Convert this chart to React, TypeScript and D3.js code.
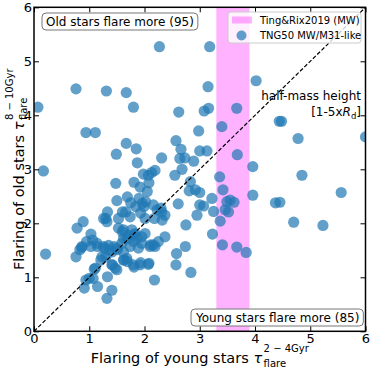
import React, { useEffect, useRef } from 'react';
import * as d3 from 'd3';

// flaring of young (2-4 Gyr) vs old (8-10 Gyr) stars, one entry per TNG50 galaxy
const youngFlare = [
  0.07, 0.17, 0.21, 0.76, 0.94, 1.11, 1.31, 1.67, 1.80, 2.27, 2.62, 3.08, 3.16, 3.18, 3.15, 3.67, 4.02, 3.40, 4.44, 4.48,
  4.78, 6.00, 3.68, 3.96, 3.36, 4.85, 3.42, 3.96, 5.56, 4.37, 4.45, 4.70, 5.23, 3.37, 3.23, 3.41, 3.67, 3.84, 3.49, 3.55,
  3.62, 3.46, 3.52, 3.25, 1.67, 1.85, 1.49, 1.87, 2.31, 2.57, 2.66, 2.64, 2.73, 2.98, 3.00, 3.13, 2.89, 2.68, 2.55, 2.19,
  2.13, 2.07, 1.98, 1.48, 1.81, 1.92, 2.05, 2.08, 2.83, 2.81, 2.92, 3.00, 3.22, 2.61, 3.00, 3.07, 2.95, 2.75, 2.37, 2.31,
  2.37, 2.58, 2.74, 2.57, 2.84, 2.18, 1.50, 1.69, 1.75, 1.60, 1.66, 1.33, 1.30, 1.32, 1.84, 1.93, 1.99, 1.90, 1.96, 2.16,
  2.23, 2.30, 2.18, 2.32, 1.53, 1.74, 1.26, 2.01, 0.89, 0.78, 1.03, 1.06, 0.86, 0.83, 0.76, 0.95, 1.14, 1.26, 1.35, 1.23,
  1.41, 1.50, 1.59, 1.62, 1.62, 1.71, 1.77, 1.83, 1.86, 1.80, 1.74, 1.95, 2.01, 1.95, 2.10, 2.19, 1.89, 1.62, 1.68, 1.41,
  1.47, 1.11, 1.80, 1.92, 2.07, 1.62, 1.53, 1.60, 1.81, 1.69, 2.11, 2.25, 2.16, 0.87, 1.03, 1.15, 1.27, 1.36, 1.45, 1.51,
  1.21, 1.30, 1.09, 1.00, 0.94, 0.91, 1.15, 1.32, 1.41, 1.33, 1.42, 1.50, 1.63, 1.69, 1.81, 1.93, 2.08, 1.07, 2.02,
];
const oldFlare = [
  4.15, 2.97, 1.43, 4.49, 3.68, 3.68, 4.45, 4.42, 4.15, 5.27, 4.06, 4.08, 4.13, 5.27, 4.53, 4.13, 4.64, 3.79, 3.89, 3.89,
  3.57, 3.60, 3.27, 3.05, 2.86, 2.89, 2.62, 2.52, 2.57, 2.38, 2.39, 2.02, 1.96, 2.04, 1.80, 1.60, 1.56, 1.46, 2.40, 2.43,
  2.39, 2.25, 2.21, 2.22, 3.48, 3.38, 3.28, 3.12, 3.21, 3.53, 3.37, 3.20, 3.21, 3.71, 3.34, 3.34, 3.15, 3.00, 2.89, 2.98,
  2.94, 2.89, 2.91, 2.74, 2.76, 2.67, 2.59, 2.75, 2.77, 2.60, 2.62, 2.57, 2.46, 2.36, 2.34, 2.32, 2.15, 1.97, 2.15, 2.21,
  1.75, 1.44, 1.57, 1.23, 1.09, 0.95, 2.42, 2.49, 2.38, 2.21, 2.21, 2.21, 2.09, 2.03, 2.31, 2.19, 2.31, 2.46, 2.37, 2.34,
  2.25, 2.28, 2.09, 2.06, 2.09, 2.12, 2.09, 2.09, 2.03, 1.91, 1.80, 1.69, 1.55, 1.51, 1.38, 1.66, 1.63, 1.57, 1.59, 1.38,
  1.47, 1.54, 1.63, 1.72, 1.88, 1.78, 1.88, 1.81, 1.72, 1.66, 1.57, 1.75, 1.81, 1.63, 1.57, 1.57, 1.54, 1.47, 1.35, 1.23,
  1.17, 1.17, 1.23, 1.23, 1.24, 1.32, 1.91, 1.84, 1.78, 1.72, 1.60, 1.66, 1.60, 1.57, 1.57, 1.57, 1.54, 1.51, 1.57, 1.51,
  1.32, 1.38, 1.15, 0.98, 0.95, 0.80, 0.83, 0.61, 0.76, 1.01, 1.23, 1.14, 1.32, 1.29, 1.19, 1.27, 1.26, 0.98, 2.40,
];

const xTicks = [0, 1, 2, 3, 4, 5, 6];
const yTicks = [0, 1, 2, 3, 4, 5, 6];
const tingRixBand = [3.3, 3.9];
const oldMoreCount = 95;
const youngMoreCount = 85;

const App = () => {
  const svgRef = useRef<SVGSVGElement>(null);

  useEffect(() => {
    const svg = d3.select(svgRef.current);
    svg.selectAll('*').remove();

    const font = 'DejaVu Sans, sans-serif';
    const left = 34, right = 365.5, top = 7.3, bottom = 331.3;

    const x = d3.scaleLinear().domain([0, 6]).range([left, right]);
    const y = d3.scaleLinear().domain([0, 6]).range([bottom, top]);

    svg.append('rect').attr('width', 374).attr('height', 370).attr('fill', 'white');

    svg.append('clipPath').attr('id', 'plot-clip')
      .append('rect')
      .attr('x', left).attr('y', top)
      .attr('width', right - left).attr('height', bottom - top);

    const plot = svg.append('g').attr('clip-path', 'url(#plot-clip)');

    plot.append('rect')
      .attr('x', x(tingRixBand[0]))
      .attr('y', top)
      .attr('width', x(tingRixBand[1]) - x(tingRixBand[0]))
      .attr('height', bottom - top)
      .attr('fill', '#ff00ff')
      .attr('fill-opacity', 0.3);

    const pts = youngFlare.map((v, i) => ({ young: v, old: oldFlare[i] }));

    plot.selectAll('.dot')
      .data(pts)
      .enter().append('circle')
      .attr('class', 'dot')
      .attr('cx', d => x(d.young))
      .attr('cy', d => y(d.old))
      .attr('r', 5.6)
      .attr('fill', '#1f77b4')
      .attr('fill-opacity', 0.7);

    plot.append('line')
      .attr('x1', x(0)).attr('y1', y(0))
      .attr('x2', x(6)).attr('y2', y(6))
      .attr('stroke', 'black')
      .attr('stroke-width', 1.2)
      .attr('stroke-dasharray', '4,2');

    // axes, ticks pointing inward on all four sides
    const styleAxis = (g) => {
      g.select('.domain').remove();
      g.selectAll('line').attr('stroke', 'black').attr('stroke-width', 1);
      g.selectAll('text').attr('font-family', font).attr('font-size', 13).attr('fill', 'black');
    };

    svg.append('g')
      .attr('transform', `translate(0,${bottom})`)
      .call(d3.axisBottom(x).tickValues(xTicks).tickSize(-5).tickPadding(2).tickFormat(d3.format('d')))
      .call(styleAxis);

    svg.append('g')
      .attr('transform', `translate(${left},0)`)
      .call(d3.axisLeft(y).tickValues(yTicks).tickSize(-5).tickPadding(2).tickFormat(d3.format('d')))
      .call(styleAxis);

    svg.append('g')
      .attr('transform', `translate(0,${top})`)
      .call(d3.axisTop(x).tickValues(xTicks).tickSize(-5).tickFormat(() => ''))
      .call(styleAxis);

    svg.append('g')
      .attr('transform', `translate(${right},0)`)
      .call(d3.axisRight(y).tickValues(yTicks).tickSize(-5).tickFormat(() => ''))
      .call(styleAxis);

    svg.append('rect')
      .attr('x', left).attr('y', top)
      .attr('width', right - left).attr('height', bottom - top)
      .attr('fill', 'none')
      .attr('stroke', 'black')
      .attr('stroke-width', 1.5);

    // boxed annotations
    const boxText = (label, tx, ty) => {
      const g = svg.append('g');
      const t = g.append('text')
        .attr('x', tx).attr('y', ty)
        .attr('font-family', font).attr('font-size', 12)
        .text(label);
      const bb = (t.node() as SVGTextElement).getBBox();
      g.insert('rect', 'text')
        .attr('x', bb.x - 4).attr('y', bb.y - 1.5)
        .attr('width', bb.width + 8).attr('height', bb.height + 3)
        .attr('rx', 4)
        .attr('fill', 'white')
        .attr('stroke', '#777')
        .attr('stroke-width', 1);
    };
    boxText(`Old stars flare more (${oldMoreCount})`, 46, 25.5);
    boxText(`Young stars flare more (${youngMoreCount})`, 196, 321.5);

    svg.append('text')
      .attr('x', 361).attr('y', 100)
      .attr('text-anchor', 'end')
      .attr('font-family', font).attr('font-size', 12)
      .text('half-mass height');
    const hm2 = svg.append('text')
      .attr('x', 361).attr('y', 116)
      .attr('text-anchor', 'end')
      .attr('font-family', font).attr('font-size', 12);
    hm2.append('tspan').text('[1-5x');
    hm2.append('tspan').attr('font-style', 'italic').text('R');
    hm2.append('tspan').attr('font-size', 8.5).attr('dy', 2.5).text('d');
    hm2.append('tspan').attr('dy', -2.5).text(']');

    // legend
    const leg = svg.append('g');
    leg.append('rect')
      .attr('x', 228).attr('y', 12)
      .attr('width', 133).attr('height', 31)
      .attr('rx', 3)
      .attr('fill', 'white').attr('fill-opacity', 0.8)
      .attr('stroke', '#cccccc').attr('stroke-width', 1);
    leg.append('rect')
      .attr('x', 232).attr('y', 16.5)
      .attr('width', 20).attr('height', 7)
      .attr('fill', '#ff00ff').attr('fill-opacity', 0.3);
    leg.append('text')
      .attr('x', 260).attr('y', 23.5)
      .attr('font-family', font).attr('font-size', 10)
      .text('Ting&Rix2019 (MW)');
    leg.append('circle')
      .attr('cx', 241.5).attr('cy', 35.5).attr('r', 5)
      .attr('fill', '#1f77b4').attr('fill-opacity', 0.7);
    leg.append('text')
      .attr('x', 260).attr('y', 39)
      .attr('font-family', font).attr('font-size', 10)
      .text('TNG50 MW/M31-like');

    // axis labels with tau super/subscripts
    const axisLabel = (main, sup, sub) => {
      const g = svg.append('g');
      const t = g.append('text').attr('font-family', font).attr('font-size', 14.5);
      t.append('tspan').text(main);
      t.append('tspan').attr('font-style', 'italic').text('τ');
      const w = (t.node() as SVGTextElement).getComputedTextLength();
      const s1 = g.append('text')
        .attr('x', w + 1.5).attr('y', -11)
        .attr('font-family', font).attr('font-size', 10)
        .text(sup);
      const s2 = g.append('text')
        .attr('x', w + 1.5).attr('y', 3.5)
        .attr('font-family', font).attr('font-size', 10)
        .text(sub);
      const total = w + 1.5 + Math.max(
        (s1.node() as SVGTextElement).getComputedTextLength(),
        (s2.node() as SVGTextElement).getComputedTextLength()
      );
      return { g, total };
    };

    const xl = axisLabel('Flaring of young stars ', '2 − 4Gyr', 'flare');
    xl.g.attr('transform', `translate(${(left + right) / 2 - xl.total / 2},363)`);

    const yl = axisLabel('Flaring of old stars ', '8 − 10Gyr', 'flare');
    yl.g.attr('transform', `translate(23.5,${(top + bottom) / 2 + yl.total / 2}) rotate(-90)`);
  }, []);

  return (
    <svg
      ref={svgRef}
      width={374}
      height={370}
      style={{ position: 'absolute', left: 0, top: 0 }}
    />
  );
};

export default App;
